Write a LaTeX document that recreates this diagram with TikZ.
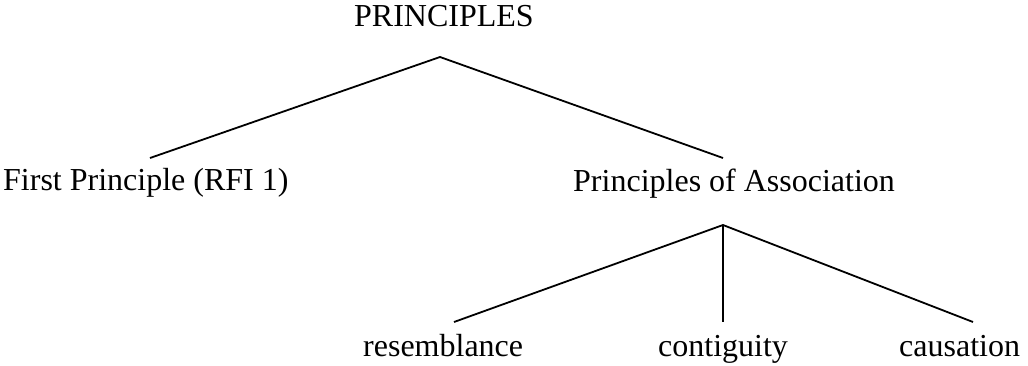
\documentclass[tikz,border=0pt]{standalone}
\usepackage{fontspec}
\setmainfont{Liberation Serif}
\begin{document}
\begin{tikzpicture}[x=1pt,y=-1pt,
  label/.style={anchor=base west,inner sep=0pt,font=\fontsize{32}{36}\selectfont},
  branch/.style={line width=1.8pt}]
\useasboundingbox (0,0) rectangle (1028,365);
% text of the tree
\node[label] (root) at (354,26) {PRINCIPLES};
\node[label] (first) at (3,190) {First Principle (RFI 1)};
\node[label] (assoc) at (573,191) {Principles of Association};
\node[label] (res) at (363,356) {resemblance};
\node[label] (con) at (658,356) {contiguity};
\node[label] (cau) at (899,356) {causation};
% branching points and branch ends
\coordinate (top) at (440,57);
\coordinate (firstend) at (150,158);
\coordinate (assocend) at (723,158);
\coordinate (mid) at (723,225);
\coordinate (resend) at (454,322);
\coordinate (conend) at (723,322);
\coordinate (cauend) at (973,322);
\draw[branch] (firstend) -- (top) -- (assocend);
\draw[branch] (resend) -- (mid) -- (cauend);
\draw[branch] (mid) -- (conend);
\end{tikzpicture}
\end{document}
